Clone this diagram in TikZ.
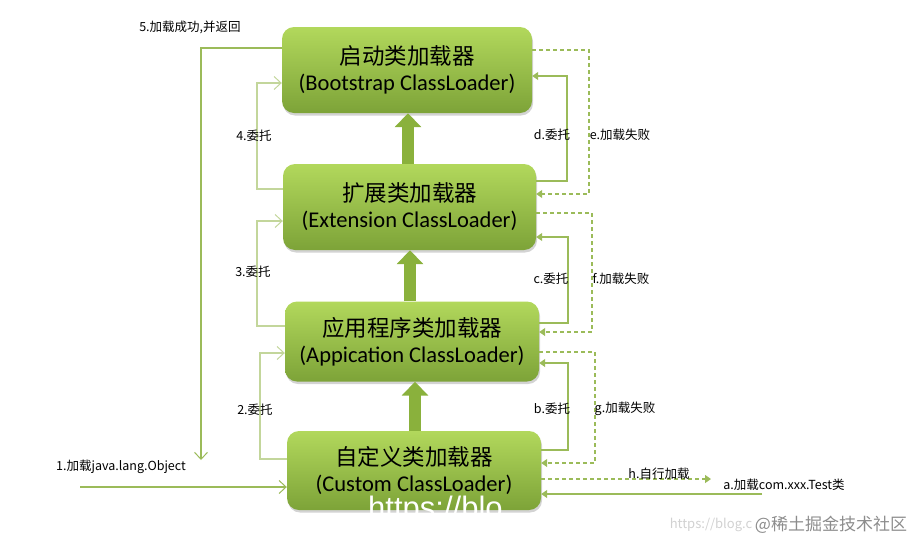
\documentclass[tikz,border=0pt]{standalone}
\usepackage{fontspec}
\setmainfont{Carlito}
\newfontfamily\cjk{Noto Sans CJK SC}
\newfontfamily\wmfont{Liberation Sans}
\usetikzlibrary{arrows.meta,shadows}
\definecolor{gtop}{HTML}{B2D85C}
\definecolor{gbot}{HTML}{7DA338}
\definecolor{conn}{HTML}{9BBB59}
\definecolor{connl}{HTML}{C3D69B}
\definecolor{arrowg}{HTML}{8AB13C}
\tikzset{
  loader/.style={rounded corners=12pt, top color=gtop, bottom color=gbot, draw=none,
    drop shadow={shadow xshift=1pt, shadow yshift=-2.5pt, opacity=0.35},
    align=center, inner sep=0pt, font=\fontsize{22.5}{26}\selectfont},
  cn/.style={},
  bigarrow/.style={line width=12pt, arrowg, -{Triangle[width=26pt,length=14pt]}},
  lconn/.style={line width=1.2pt, connl, -{Straight Barb[length=7pt,width=13pt,line width=1pt]}},
  lconnd/.style={line width=1.2pt, conn, -{Straight Barb[length=7pt,width=13pt,line width=1pt]}},
  rconn/.style={line width=1.2pt, conn, -{Triangle[length=6pt,width=8pt]}},
  rconnd/.style={rconn, dash pattern=on 4pt off 3pt},
  lbl/.style={font=\cjk\fontsize{12.5}{14}\selectfont, inner sep=0pt}
}
\newcommand{\cnline}[1]{{\cjk\fontsize{22.5}{26}\selectfont #1}}
\begin{document}
\begin{tikzpicture}[x=1pt,y=-1pt]
\useasboundingbox (0,0) rectangle (918,544);
% boxes
\node[loader, minimum width=250pt, minimum height=86pt] (b1) at (407,70)
  {\cnline{启动类加载器}\\(Bootstrap ClassLoader)};
\node[loader, minimum width=253pt, minimum height=86pt] (b2) at (409.5,207)
  {\cnline{扩展类加载器}\\(Extension ClassLoader)};
\node[loader, minimum width=254pt, minimum height=80pt] (b3) at (412,341.5)
  {\cnline{应用程序类加载器}\\(Appication ClassLoader)};
\node[loader, minimum width=254pt, minimum height=79pt] (b4) at (414,470.5)
  {\cnline{自定义类加载器}\\(Custom ClassLoader)};
% thick up arrows
\draw[bigarrow] (b2.north -| 408,0) -- (b1.south -| 408,0);
\draw[bigarrow] (b3.north -| 410,0) -- (b2.south -| 410,0);
\draw[bigarrow] (b4.north -| 415,0) -- (b3.south -| 415,0);
% left connectors
\coordinate (ret) at (201,460);
\draw[lconnd] (b1.west |- 0,48) -| (ret);
\draw[lconn] (b2.west |- 0,189) -| (257,136) |- (b1.west |- 0,83);
\draw[lconn] (b3.west |- 0,326) -| (257,272) |- (b2.west |- 0,221);
\draw[lconn] (b4.west |- 0,459) -| (260,410) |- (b3.west |- 0,353);
\coordinate (src) at (80,487);
\draw[lconnd] (src) -- (b4.west |- 0,487);
% right connectors
\draw[rconn] (b2.east |- 0,181) -| (567,135) |- (b1.east |- 0,76);
\draw[rconnd] (b1.east |- 0,50) -| (589,135) |- (b2.east |- 0,194);
\draw[rconnd] (b2.east |- 0,213) -| (592,279) |- (b3.east |- 0,332);
\draw[rconn] (b3.east |- 0,323) -| (568,279) |- (b2.east |- 0,237);
\draw[rconnd] (b3.east |- 0,352) -| (595,409) |- (b4.east |- 0,463);
\draw[rconn] (b4.east |- 0,450) -| (568,409) |- (b3.east |- 0,363);
\coordinate (self) at (711,479);
\draw[rconnd] (b4.east |- 0,479) -- (self);
\coordinate (req) at (762,494);
\draw[rconn] (req) -- (b4.east |- 0,494);
% labels
\node[lbl] (l5) at (190,27) {5.加载成功,并返回};
\node[lbl] (l4) at (254,136) {4.委托};
\node[lbl] (l3) at (253,272) {3.委托};
\node[lbl] (l2) at (255,410) {2.委托};
\node[lbl] (l1) at (121,467) {1.加载java.lang.Object};
\node[lbl] (ld) at (552,135) {d.委托};
\node[lbl] (le) at (620,135) {e.加载失败};
\node[lbl] (lc) at (551,279) {c.委托};
\node[lbl] (lf) at (621,279) {f.加载失败};
\node[lbl] (lb) at (552,409) {b.委托};
\node[lbl] (lg) at (625,409) {g.加载失败};
\node[lbl] (lh) at (659,474) {h.自行加载};
\node[lbl] (la) at (784,485) {a.加载com.xxx.Test类};
% watermarks
\node[font=\cjk\fontsize{13}{15}\selectfont, text=black!18, inner sep=0pt] (w1) at (711,525) {https://blog.c};
\node[font=\cjk\fontsize{17}{19}\selectfont, text=black!45, inner sep=0pt] (w2) at (831,525) {@稀土掘金技术社区};
\node[font=\wmfont\fontsize{31}{34}\selectfont, text=white, anchor=base west, inner sep=0pt] (w3) at (368,518) {https://blo};
\end{tikzpicture}
\end{document}
